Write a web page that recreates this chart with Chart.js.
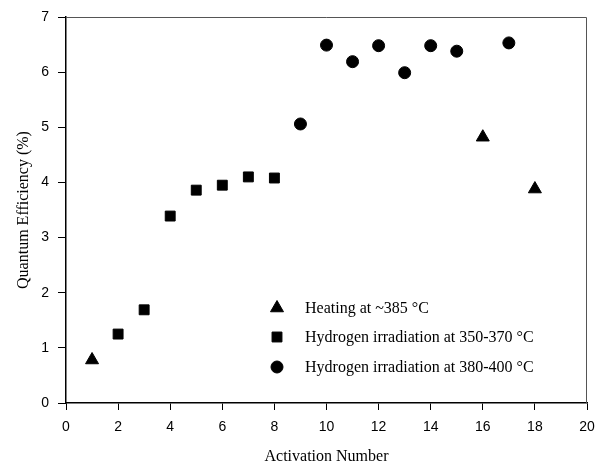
<!DOCTYPE html>
<html>
<head>
<meta charset="utf-8">
<script src="https://cdn.jsdelivr.net/npm/chart.js@4/dist/chart.umd.min.js"></script>
<style>
html,body{margin:0;padding:0;background:#fff;}
#wrap{width:600px;height:466px;}
</style>
</head>
<body>
<div id="wrap"><canvas id="c" width="600" height="466"></canvas></div>
<script>
// Data
const heatingX = [1, 16, 18];
const heatingY = [0.78, 4.82, 3.88];
const h350X = [2, 3, 4, 5, 6, 7, 8];
const h350Y = [1.25, 1.69, 3.39, 3.86, 3.95, 4.10, 4.08];
const h380X = [9, 10, 11, 12, 13, 14, 15, 17];
const h380Y = [5.06, 6.49, 6.19, 6.48, 5.99, 6.48, 6.38, 6.53];
const seriesLabels = ['Heating at ~385 \u00B0C', 'Hydrogen irradiation at 350-370 \u00B0C', 'Hydrogen irradiation at 380-400 \u00B0C'];
const xTitle = 'Activation Number';
const yTitle = 'Quantum Efficiency (%)';

const pts = (xs, ys) => xs.map((x, i) => ({x: x, y: ys[i]}));

const frame = {
  id: 'frame',
  afterDraw(chart) {
    const {ctx, chartArea: a} = chart;
    ctx.save();
    ctx.strokeStyle = '#555';
    ctx.lineWidth = 1;
    ctx.beginPath();
    ctx.moveTo(a.left, a.top + 0.5);
    ctx.lineTo(a.right - 0.5, a.top + 0.5);
    ctx.lineTo(a.right - 0.5, a.bottom);
    ctx.stroke();
    ctx.restore();
  }
};

const insideLegend = {
  id: 'insideLegend',
  afterDraw(chart) {
    const {ctx, chartArea: a} = chart;
    const mx = a.left + 211;
    const tx = a.left + 239;
    const ys = [a.top + 291, a.top + 320, a.top + 350];
    ctx.save();
    chart.data.datasets.forEach((ds, i) => {
      ctx.fillStyle = '#000';
      ctx.strokeStyle = '#000';
      ctx.lineWidth = 1;
      Chart.helpers.drawPoint(ctx, {pointStyle: ds.pointStyle, radius: ds.pointRadius, rotation: 0, borderWidth: 1}, mx, ys[i]);
      ctx.fillStyle = '#000';
      ctx.font = '16px "Liberation Serif", "Times New Roman", serif';
      ctx.textAlign = 'left';
      ctx.textBaseline = 'middle';
      ctx.fillText(ds.label, tx, ys[i] + 1);
    });
    ctx.restore();
  }
};

new Chart(document.getElementById('c'), {
  type: 'scatter',
  data: {
    datasets: [
      {label: seriesLabels[0], data: pts(heatingX, heatingY), pointStyle: 'triangle', pointRadius: 7.5, backgroundColor: '#000', borderColor: '#000', borderWidth: 1},
      {label: seriesLabels[1], data: pts(h350X, h350Y), pointStyle: 'rect', pointRadius: 7, backgroundColor: '#000', borderColor: '#000', borderWidth: 1},
      {label: seriesLabels[2], data: pts(h380X, h380Y), pointStyle: 'circle', pointRadius: 6, backgroundColor: '#000', borderColor: '#000', borderWidth: 1}
    ]
  },
  options: {
    responsive: false,
    animation: false,
    layout: {padding: {top: 17, right: 13, left: 14, bottom: 0}},
    plugins: {legend: {display: false}, tooltip: {enabled: false}},
    scales: {
      x: {
        type: 'linear', min: 0, max: 20,
        afterFit(s) { s.height = 63; s.paddingLeft = 0; s.paddingRight = 0; },
        ticks: {stepSize: 2, color: '#000', font: {family: '"Liberation Sans", Arial, sans-serif', size: 14}, padding: 9, maxRotation: 0},
        grid: {display: true, drawOnChartArea: false, drawTicks: true, tickLength: 7, tickColor: '#000'},
        border: {display: true, color: '#000', width: 1.5},
        title: {display: true, text: xTitle, color: '#000', font: {family: '"Liberation Serif", "Times New Roman", serif', size: 16}, padding: {top: 10, bottom: 0}}
      },
      y: {
        type: 'linear', min: 0, max: 7,
        afterFit(s) { s.width = 52; s.paddingTop = 0; s.paddingBottom = 0; },
        ticks: {stepSize: 1, color: '#000', font: {family: '"Liberation Sans", Arial, sans-serif', size: 14}, padding: 9},
        grid: {display: true, drawOnChartArea: false, drawTicks: true, tickLength: 8, tickColor: '#000'},
        border: {display: true, color: '#000', width: 1.5},
        title: {display: true, text: yTitle, color: '#000', font: {family: '"Liberation Serif", "Times New Roman", serif', size: 16}, padding: {top: 0, bottom: 4}}
      }
    }
  },
  plugins: [frame, insideLegend]
});
</script>
</body>
</html>
